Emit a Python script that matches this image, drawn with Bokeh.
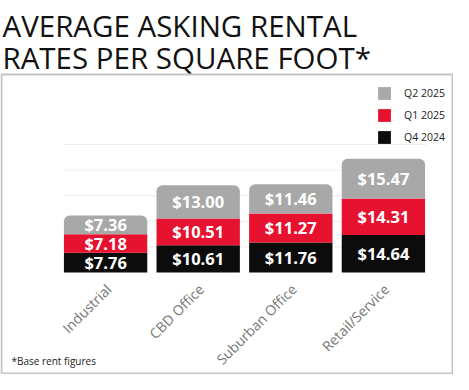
import numpy as np
from bokeh.plotting import figure
from bokeh.models import Range1d, Legend, LegendItem, Label, BoxAnnotation
from bokeh.embed import file_html
from bokeh.resources import INLINE
from bokeh.core.properties import value

# ---- data ----
categories = ["Industrial", "CBD Office", "Suburban Office", "Retail/Service"]
q4_2024 = [7.76, 10.61, 11.76, 14.64]
q1_2025 = [7.18, 10.51, 11.27, 14.31]
q2_2025 = [7.36, 13.00, 11.46, 15.47]
series_labels = ["Q4 2024", "Q1 2025", "Q2 2025"]
grid_values = [10, 20, 30, 40, 50]
title_lines = ["AVERAGE ASKING RENTAL", "RATES PER SQUARE FOOT*"]
footnote = "*Base rent figures"

# ---- style ----
colors = ["#0c0c0c", "#e6122f", "#a8a8a8"]
FONT = "Open Sans"
W, H = 453, 374
bw = 0.9
xs = list(range(len(categories)))

p = figure(width=W, height=H, output_backend="svg", toolbar_location=None, title=None,
           x_range=Range1d(-1.135, 3.757), y_range=Range1d(-39.84, 106.25),
           x_axis_type=None, y_axis_type=None,
           min_border_left=0, min_border_right=0, min_border_top=0, min_border_bottom=0)
p.outline_line_color = None
p.background_fill_color = "white"
p.border_fill_color = "white"
p.xgrid.visible = False
p.ygrid.visible = False

# frame box around chart area
p.add_layout(BoxAnnotation(left=1, right=W - 1, top=H - 74, bottom=1,
                           left_units="screen", right_units="screen",
                           top_units="screen", bottom_units="screen",
                           fill_alpha=0, line_color="#3c3c3c", line_width=2))

# title
for k, t in enumerate(title_lines):
    p.add_layout(Label(x=2, y=H - 25 - 32 * k, x_units="screen", y_units="screen",
                       text=t, text_font=FONT, text_font_size="29.5px",
                       text_baseline="alphabetic", text_color="#111111"))

# grid lines spanning the bar area
gx0 = xs[0] - bw / 2 - 0.01
gx1 = xs[-1] + bw / 2 + 0.01
p.segment(x0=[gx0] * len(grid_values), x1=[gx1] * len(grid_values),
          y0=grid_values, y1=grid_values, line_color="#ececec", line_width=1)

series = [q4_2024, q1_2025, q2_2025]
bottom = np.zeros(len(categories))
renderers = []
for i, (vals, col) in enumerate(zip(series, colors)):
    top = bottom + np.array(vals)
    kw = {}
    if i == len(series) - 1:
        kw["border_radius"] = (6, 6, 0, 0)
    r = p.vbar(x=xs, bottom=bottom, top=top, width=bw, fill_color=col,
               line_color=None, **kw)
    renderers.append(r)
    mids = (bottom + top) / 2
    p.text(x=xs, y=mids, text=[f"${v:.2f}" for v in vals],
           text_align="center", text_baseline="middle", text_color="white",
           text_font=value(FONT), text_font_size="16.5px", text_font_style="bold")
    bottom = top

# category labels (rotated)
p.text(x=xs, y=[0] * len(categories), text=categories, angle=np.pi / 4,
       text_align="right", text_baseline="middle", x_offset=3, y_offset=14,
       text_color="#777777", text_font=value(FONT), text_font_size="14px")

legend = Legend(items=[LegendItem(label=series_labels[k], renderers=[renderers[k]])
                       for k in (2, 1, 0)],
                location=(376, 229), padding=0, margin=0, spacing=6,
                glyph_width=16, glyph_height=16, label_height=16, label_standoff=12,
                border_line_color=None, background_fill_alpha=0,
                label_text_font=FONT, label_text_font_size="10.5px",
                label_text_color="#222222")
p.add_layout(legend)

p.add_layout(Label(x=11, y=14, x_units="screen", y_units="screen",
                   text=footnote, text_font=FONT, text_font_size="10px",
                   text_baseline="middle", text_color="#222222"))

open("out.html", "w").write(file_html(p, INLINE))
